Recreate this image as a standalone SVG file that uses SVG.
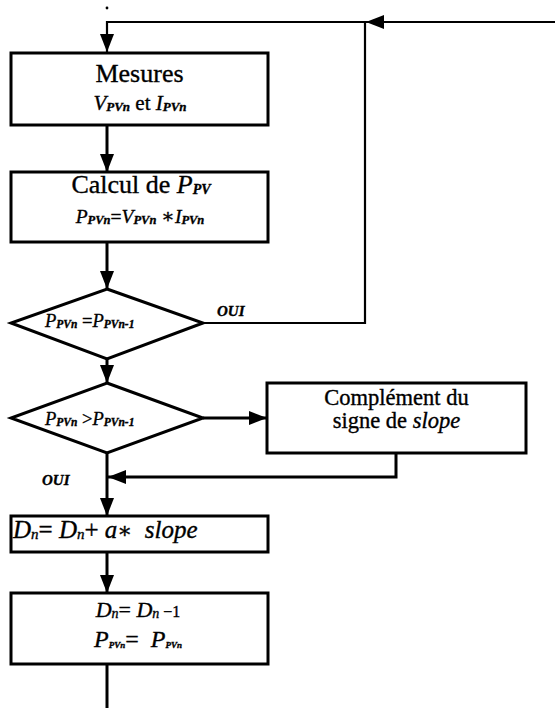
<svg xmlns="http://www.w3.org/2000/svg" width="555" height="710" viewBox="0 0 555 710" font-family="'Liberation Serif', 'Times New Roman', serif">
<defs>
<marker id="ah" markerUnits="userSpaceOnUse" markerWidth="18" markerHeight="14" refX="18" refY="7" orient="auto">
<path d="M0,0 L18,7 L0,14 z" fill="#000"/>
</marker>
<style>
.box{fill:#fff;stroke:#000;stroke-width:3}
.ln{fill:none;stroke:#000;stroke-width:3}
.thin{fill:none;stroke:#000;stroke-width:2.2}
text{font-family:'Liberation Serif','Times New Roman',serif;fill:#000;stroke:#000;stroke-width:0.35}
.it{font-style:italic}
.sub{font-style:italic;font-weight:bold}
.oui{font-style:italic;font-weight:bold;font-size:15px}
.sym{font-family:'DejaVu Serif','DejaVu Sans',serif}
</style>
</defs>
<rect width="555" height="710" fill="#fff"/>
<g id="connectors">
<circle cx="107" cy="8" r="1.4" fill="#000"/>
<path class="thin" d="M203,323 H365 V22 H107 V52" marker-end="url(#ah)"/>
<path class="thin" d="M555,22 H366" marker-end="url(#ah)"/>
<path class="ln" d="M107,125 V172" marker-end="url(#ah)"/>
<path class="ln" d="M107,242 V289" marker-end="url(#ah)"/>
<path class="ln" d="M107,359 V383" marker-end="url(#ah)"/>
<path class="ln" d="M203,418 H267" marker-end="url(#ah)"/>
<path class="ln" d="M396,453 V477 H108" marker-end="url(#ah)"/>
<path class="ln" d="M107,453 V516" marker-end="url(#ah)"/>
<path class="ln" d="M107,552 V593" marker-end="url(#ah)"/>
<path class="ln" d="M107,664 V708"/>
<text class="oui" x="217" y="316" font-family="'Liberation Serif', serif">OUI</text>
<text class="oui" x="42" y="485" font-family="'Liberation Serif', serif">OUI</text>
</g>
<g id="mesures">
<rect class="box" x="11" y="53" width="257" height="72"/>
<text x="139.5" y="82" font-size="26" text-anchor="middle" font-family="'Liberation Serif', serif">Mesures</text>
<text x="140" y="110" font-size="21" text-anchor="middle" font-family="'Liberation Serif', serif"><tspan class="it">V</tspan><tspan class="sub" font-size="13" dy="1">PVn</tspan><tspan dy="-1"> et </tspan><tspan class="it">I</tspan><tspan class="sub" font-size="13" dy="1">PVn</tspan></text>
</g>
<g id="calcul">
<rect class="box" x="11" y="172" width="257" height="70"/>
<text x="141" y="193" font-size="26" text-anchor="middle" font-family="'Liberation Serif', serif">Calcul de <tspan class="it">P</tspan><tspan class="sub" font-size="14" dy="1">PV</tspan></text>
<text x="140" y="223" font-size="19.5" text-anchor="middle" font-family="'Liberation Serif', serif"><tspan class="it">P</tspan><tspan class="sub" font-size="12.5" dy="1">PVn</tspan><tspan dy="-1">=</tspan><tspan class="it">V</tspan><tspan class="sub" font-size="12.5" dy="1">PVn</tspan><tspan dy="-1"> </tspan><tspan class="sym" font-size="20">∗</tspan><tspan class="it">I</tspan><tspan class="sub" font-size="12.5" dy="1">PVn</tspan></text>
</g>
<g id="test-egal">
<polygon class="box" points="107,289 203,323 107,359 11,323"/>
<text x="45" y="327" font-size="18.5" font-family="'Liberation Serif', serif"><tspan class="it">P</tspan><tspan class="sub" font-size="11.5" dy="1">PVn</tspan><tspan dy="-1"> =</tspan><tspan class="it">P</tspan><tspan class="sub" font-size="11.5" dy="1">PVn-1</tspan></text>
</g>
<g id="test-sup">
<polygon class="box" points="107,383 203,418 107,453 11,418"/>
<text x="45" y="425" font-size="18.5" font-family="'Liberation Serif', serif"><tspan class="it">P</tspan><tspan class="sub" font-size="11.5" dy="1">PVn</tspan><tspan dy="-1"> &gt;</tspan><tspan class="it">P</tspan><tspan class="sub" font-size="11.5" dy="1">PVn-1</tspan></text>
</g>
<g id="complement">
<rect class="box" x="267" y="383" width="259" height="70"/>
<text x="396.5" y="405" font-size="22.5" text-anchor="middle" font-family="'Liberation Serif', serif">Complément du</text>
<text x="396.5" y="428" font-size="22.5" text-anchor="middle" font-family="'Liberation Serif', serif">signe de <tspan class="it">slope</tspan></text>
</g>
<g id="maj-d">
<rect class="box" x="11" y="516" width="257" height="36"/>
<text x="13" y="538" font-size="25" font-family="'Liberation Serif', serif" xml:space="preserve"><tspan class="it">D</tspan><tspan class="it" font-size="15" dy="1">n</tspan><tspan dy="-1">= </tspan><tspan class="it">D</tspan><tspan class="it" font-size="15" dy="1">n</tspan><tspan dy="-1">+ </tspan><tspan class="it">a</tspan><tspan class="sym" font-size="22">∗</tspan><tspan class="it">  slope</tspan></text>
</g>
<g id="memo">
<rect class="box" x="11" y="593" width="257" height="71"/>
<text x="138" y="617" font-size="22" text-anchor="middle" font-family="'Liberation Serif', serif" xml:space="preserve"><tspan class="it">D</tspan><tspan class="it" font-size="14" dy="1">n</tspan><tspan dy="-1">= </tspan><tspan class="it">D</tspan><tspan class="it" font-size="14" dy="1">n</tspan><tspan dy="-1" font-size="16"> −1</tspan></text>
<text x="138" y="647" font-size="24" text-anchor="middle" font-family="'Liberation Serif', serif" xml:space="preserve"><tspan class="it">P</tspan><tspan class="sub" font-size="9" dy="1">PVn</tspan><tspan dy="-1">=  </tspan><tspan class="it">P</tspan><tspan class="sub" font-size="9" dy="1">PVn</tspan></text>
</g>
</svg>
